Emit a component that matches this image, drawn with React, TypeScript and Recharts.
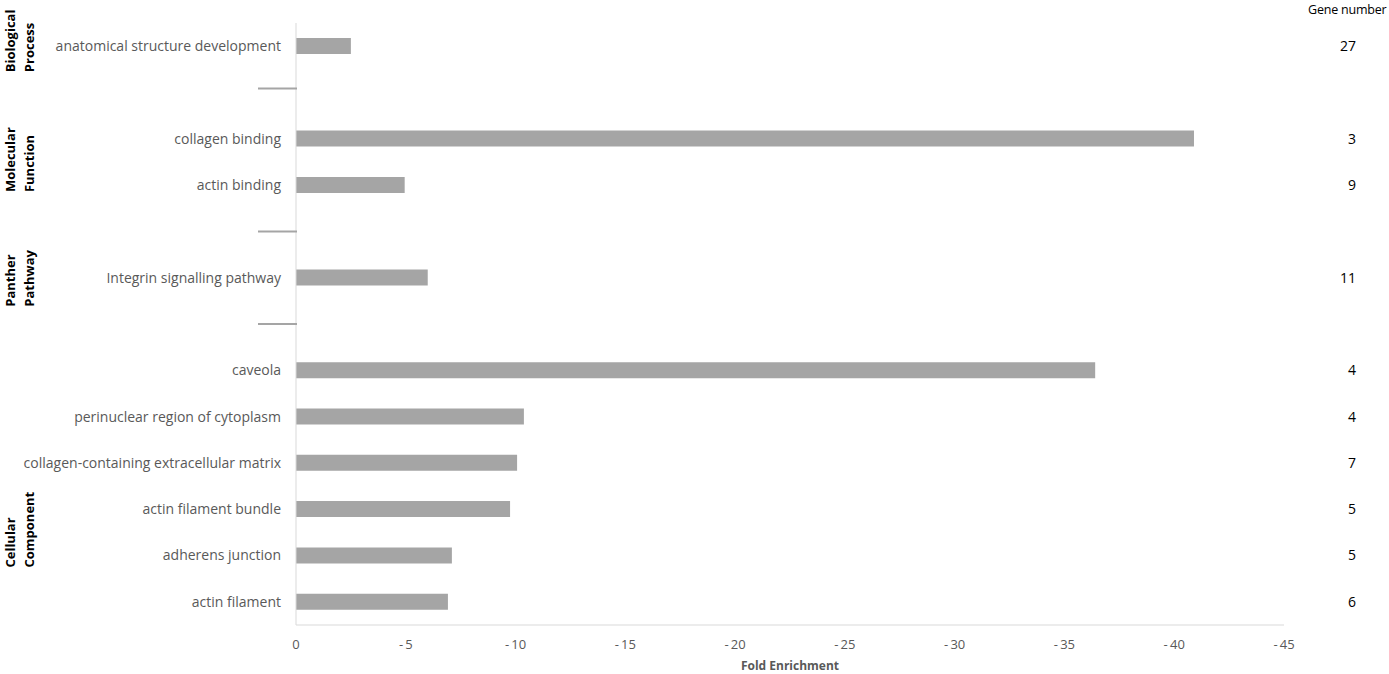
import React from 'react';
import { BarChart, Bar, XAxis, YAxis } from 'recharts';

// rows top to bottom; "gap-*" rows are the empty slots between the groups
const terms = [
  'anatomical structure development',
  'gap-1',
  'collagen binding',
  'actin binding',
  'gap-2',
  'Integrin signalling pathway',
  'gap-3',
  'caveola',
  'perinuclear region of cytoplasm',
  'collagen-containing extracellular matrix',
  'actin filament bundle',
  'adherens junction',
  'actin filament',
];

const foldEnrichment = [-2.5, null, -40.9, -4.95, null, -6.0, null, -36.4, -10.38, -10.07, -9.75, -7.1, -6.92];

const geneNumbers = [27, null, 3, 9, null, 11, null, 4, 4, 7, 5, 5, 6];

const xTicks = [0, -5, -10, -15, -20, -25, -30, -35, -40, -45];

// group label, the row it hangs off and how far below that row's centre the text starts
const groups = [
  { lines: ['Biological', 'Process'], anchor: 'anatomical structure development', shift: 26 },
  { lines: ['Molecular', 'Function'], anchor: 'actin binding', shift: 7 },
  { lines: ['Panther', 'Pathway'], anchor: 'Integrin signalling pathway', shift: 29 },
  { lines: ['Cellular', 'Component'], anchor: 'adherens junction', shift: 12 },
];

const data = terms.map((term, i) => ({ term, fold: foldEnrichment[i], genes: geneNumbers[i] }));

const TermTick = (props: any) => {
  const { x, y, payload } = props;
  const term: string = payload.value;
  const group = groups.find((g) => g.anchor === term);
  const sepY = term === 'gap-1' ? y - 4 : y;
  return (
    <g>
      {term.startsWith('gap') ? (
        <line x1={x - 23} x2={x + 16} y1={sepY} y2={sepY} stroke="#a5a5a5" strokeWidth={2} />
      ) : (
        <text x={x} y={y} dy="0.35em" textAnchor="end" fill="#595959" fontSize={14}>
          {term}
        </text>
      )}
      {group &&
        group.lines.map((line, i) => {
          const bx = 15.5 + i * 18.5;
          const by = y + group.shift;
          return (
            <text
              key={line}
              x={bx}
              y={by}
              transform={`rotate(-90 ${bx} ${by})`}
              textAnchor="start"
              fontWeight="bold"
              fontSize={13}
              fill="#000"
            >
              {line}
            </text>
          );
        })}
    </g>
  );
};

const GeneTick = (props: any) => {
  const { x, y, payload } = props;
  const row = data.find((d) => d.term === payload.value);
  if (!row || row.genes == null) return null;
  return (
    <text x={x + 72} y={y} dy="0.35em" textAnchor="end" fill="#000" fontSize={14}>
      {row.genes}
    </text>
  );
};

export default function App() {
  return (
    <div
      style={{
        position: 'absolute',
        left: 0,
        top: 0,
        width: 1389,
        height: 674,
        fontFamily: '"Open Sans", sans-serif',
        background: '#fff',
      }}
    >
      <div
        style={{
          position: 'absolute',
          left: 1308,
          top: 1,
          fontSize: 12.5,
          color: '#000',
          whiteSpace: 'nowrap',
          letterSpacing: -0.2,
        }}
      >
        Gene number
      </div>
      <BarChart
        width={1389}
        height={674}
        data={data}
        layout="vertical"
        margin={{ top: 23, right: 0, bottom: 0, left: 0 }}
      >
        <XAxis
          type="number"
          domain={[-45, 0]}
          reversed
          ticks={xTicks}
          tickFormatter={(v: number) => (v === 0 ? '0' : `-\u2009${Math.abs(v)}`)}
          tickLine={false}
          tickMargin={9}
          axisLine={{ stroke: '#d9d9d9' }}
          tick={{ fill: '#595959', fontSize: 13 }}
          height={49}
          label={{
            value: 'Fold Enrichment',
            position: 'insideBottom',
            offset: 4,
            fill: '#595959',
            fontSize: 12,
            fontWeight: 'bold',
          }}
        />
        <YAxis
          type="category"
          dataKey="term"
          width={296}
          interval={0}
          tickLine={false}
          tickSize={0}
          tickMargin={15}
          axisLine={{ stroke: '#d9d9d9' }}
          tick={<TermTick />}
        />
        <YAxis
          yAxisId="genes"
          orientation="right"
          type="category"
          dataKey="term"
          width={105}
          interval={0}
          tickLine={false}
          tickSize={0}
          tickMargin={0}
          axisLine={false}
          tick={<GeneTick />}
        />
        <Bar dataKey="fold" fill="#a5a5a5" barSize={16} isAnimationActive={false} />
      </BarChart>
    </div>
  );
}
